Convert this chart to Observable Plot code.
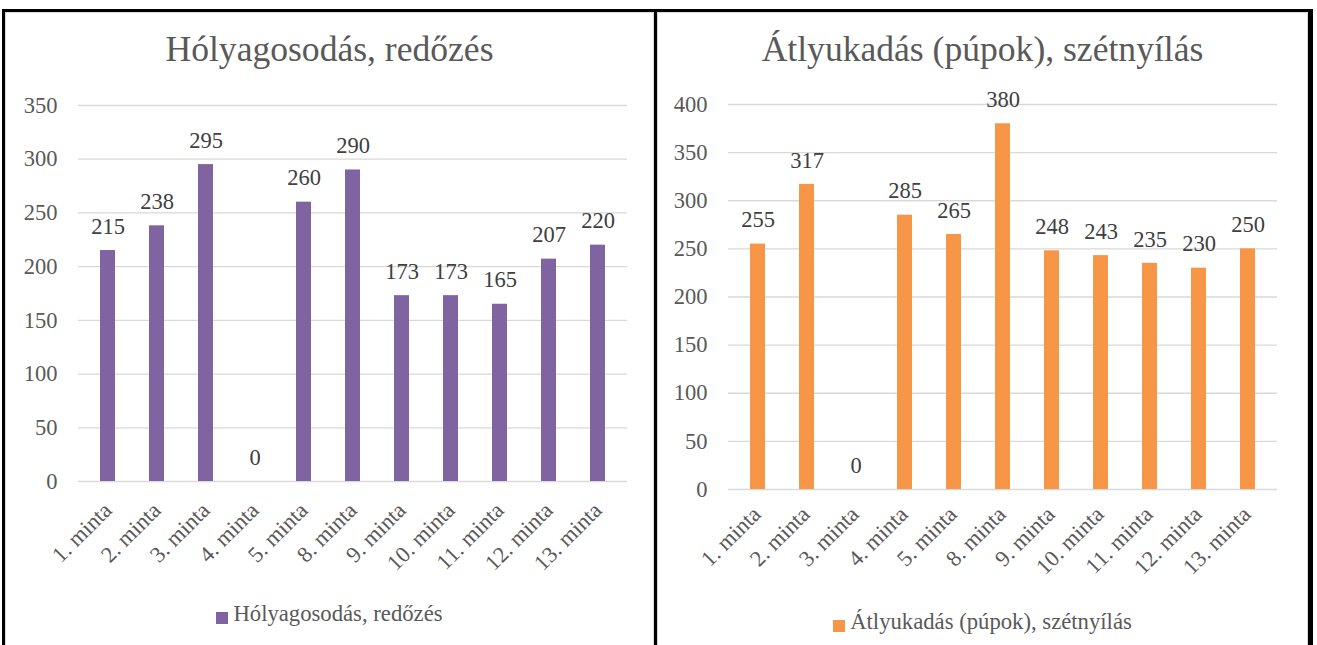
<!DOCTYPE html>
<html><head><meta charset="utf-8">
<script src="https://cdn.jsdelivr.net/npm/d3@7"></script>
<script src="https://cdn.jsdelivr.net/npm/@observablehq/plot@0.6"></script>
<style>
html,body{margin:0;padding:0;background:#fff;overflow:hidden;width:1317px;height:645px;}
body{font-family:"Liberation Serif","Times New Roman",serif;position:relative;}
.panel{position:absolute;top:9px;height:720px;border:3px solid #000;box-sizing:border-box;background:#fff;box-shadow:inset 0 0 0 1px #d9d9d9;}
.title{position:absolute;left:0;right:0;text-align:center;color:#595959;font-family:"Liberation Serif",serif;font-size:35.6px;line-height:1;white-space:nowrap;}
.legend{position:absolute;left:0;right:0;display:flex;justify-content:center;align-items:flex-end;color:#595959;font-family:"Liberation Serif",serif;font-size:22.7px;line-height:1;white-space:nowrap;}
.legend .sw{width:12px;height:12px;margin-right:5px;margin-bottom:2px;display:inline-block;}
.plot{position:absolute;left:0;}
.plot svg, .plot svg text{font-family:"Liberation Serif",serif;}
</style>
</head><body>
<div id="p1" class="panel" style="left:2px;width:655px;"></div>
<div id="p2" class="panel" style="left:654px;width:659px;border-right-width:5px;"></div>
<script>
// ---- data ----
const categories = ["1. minta","2. minta","3. minta","4. minta","5. minta","8. minta","9. minta","10. minta","11. minta","12. minta","13. minta"];
const blisterValues = [215,238,295,0,260,290,173,173,165,207,220];
const holeValues = [255,317,0,285,265,380,248,243,235,230,250];
const blisterTicks = [0,50,100,150,200,250,300,350];
const holeTicks = [0,50,100,150,200,250,300,350,400];
const blisterTitle = "Hólyagosodás, redőzés";
const holeTitle = "Átlyukadás (púpok), szétnyílás";
const blisterColor = "#8064a2";
const holeColor = "#f79646";

function chart(values, ticks, color, opts) {
  const data = categories.map((c, i) => ({cat: c, v: values[i]}));
  return Plot.plot({
    width: opts.width, height: opts.height,
    marginLeft: opts.ml, marginRight: opts.mr, marginTop: opts.mt, marginBottom: opts.mb,
    style: {fontFamily: "Liberation Serif, serif", fontSize: "22.5px", color: "#595959", background: "transparent", overflow: "visible"},
    x: {domain: categories, paddingInner: 0.69, paddingOuter: 0.345, axis: null},
    y: {domain: [0, ticks[ticks.length - 1]], axis: null},
    marks: [
      Plot.ruleY(ticks, {stroke: "#d9d9d9", strokeWidth: 1.3}),
      Plot.axisY({ticks: ticks, label: null, tickSize: 0, tickPadding: 21, tickFormat: d => String(d), fill: "#595959", fontSize: 22.5}),
      Plot.barY(data, {x: "cat", y: "v", fill: color}),
      Plot.text(data, {x: "cat", y: "v", text: d => String(d.v), dy: -24, fill: "#404040", fontSize: 22.5, lineAnchor: "middle"}),
      Plot.text(data, {x: "cat", frameAnchor: "bottom", text: "cat", rotate: -45, textAnchor: "end", lineAnchor: "middle", dx: opts.ldx, dy: opts.ldy, fill: "#595959", fontSize: 22.5})
    ]
  });
}

function panel(id, title, legendLabel, color, values, ticks, opts) {
  const p = document.getElementById(id);
  const t = document.createElement("div");
  t.className = "title"; t.style.top = opts.titleTop + "px"; t.textContent = title;
  p.appendChild(t);
  const svg = chart(values, ticks, color, opts);
  const wrap = document.createElement("div");
  wrap.className = "plot"; wrap.style.top = opts.top + "px";
  wrap.appendChild(svg);
  p.appendChild(wrap);
  const lg = document.createElement("div");
  lg.className = "legend"; lg.style.top = opts.legendTop + "px";
  const sw = document.createElement("span"); sw.className = "sw"; sw.style.background = color;
  const tx = document.createElement("span"); tx.textContent = legendLabel;
  lg.appendChild(sw); lg.appendChild(tx);
  p.appendChild(lg);
}

panel("p1", blisterTitle, blisterTitle, blisterColor, blisterValues, blisterTicks,
  {width: 649, height: 500, ml: 73, mr: 27, mt: 25, mb: 99, top: 68, titleTop: 20, legendTop: 591, ldx: 0, ldy: 25});
panel("p2", holeTitle, holeTitle, holeColor, holeValues, holeTicks,
  {width: 651, height: 500, ml: 71, mr: 31, mt: 24, mb: 91, top: 68, titleTop: 20, legendTop: 599, ldx: -1, ldy: 21});
</script>
</body></html>
